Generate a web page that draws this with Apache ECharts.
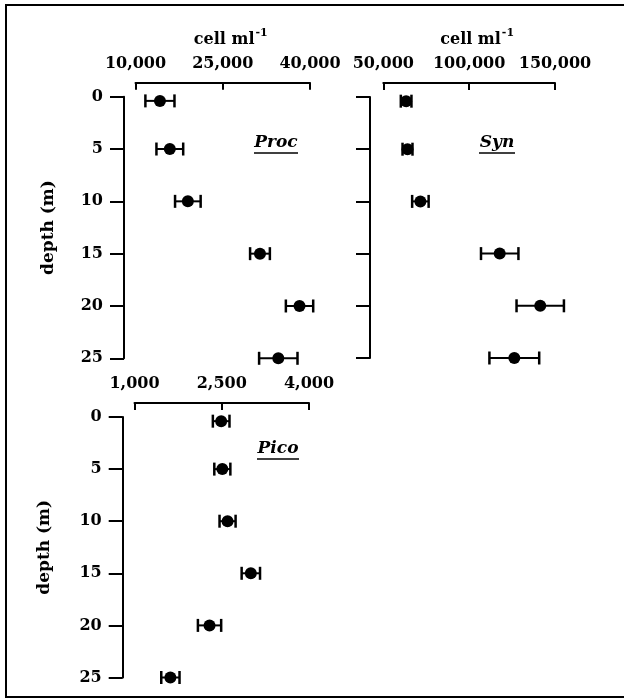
<!DOCTYPE html>
<html>
<head>
<meta charset="utf-8">
<script src="https://cdn.jsdelivr.net/npm/echarts@6/dist/echarts.min.js"></script>
<style>
html,body{margin:0;padding:0;background:#fff;}
#chart{width:624px;height:700px;}
</style>
</head>
<body>
<div id="chart"></div>
<script>
// ---- data ----
var depths = [0.4, 5, 10, 15, 20, 25];
var depthTicks = [0, 5, 10, 15, 20, 25];

var procMean = [14200, 15900, 19000, 31400, 38200, 34550];
var procErr  = [2500, 2300, 2200, 1700, 2350, 3300];

var synMean = [63300, 64100, 71600, 117800, 141400, 126300];
var synErr  = [3100, 2900, 4800, 10900, 13800, 14500];

var picoMean = [2490, 2510, 2600, 3000, 2290, 1617];
var picoErr  = [143, 138, 138, 158, 200, 157];

var procTicks = [10000, 25000, 40000];
var synTicks  = [50000, 100000, 150000];
var picoTicks = [1000, 2500, 4000];

// ---- chart ----
var FONT = 'DejaVu Serif';
var chart = echarts.init(document.getElementById('chart'), null, {renderer: 'canvas'});

function fmt(v){ return String(Math.round(v)).replace(/\B(?=(\d{3})+(?!\d))/g, ','); }

function pts(mean){ return mean.map(function(m,i){ return [m, depths[i]]; }); }
function bars(mean, err){ return mean.map(function(m,i){ return [m-err[i], m+err[i], depths[i]]; }); }

function xAxisCfg(idx, ticks, withName){
  var c = {
    type: 'value', gridIndex: idx, position: 'top', offset: 14,
    min: ticks[0], max: ticks[ticks.length-1], interval: ticks[1]-ticks[0],
    axisLine: {show: true, onZero: false, lineStyle: {color: '#000', width: 2}},
    axisTick: {show: true, inside: true, length: 7, lineStyle: {color: '#000', width: 2}},
    splitLine: {show: false},
    axisLabel: {show: true, margin: 11, color: '#000', fontFamily: FONT, fontWeight: 'bold', fontSize: 16,
      formatter: function(v){ return fmt(v); }}
  };
  if (withName) {
    c.name = '{a|cell ml}{b|-1}';
    c.nameLocation = 'middle';
    c.nameGap = 31;
    c.nameTextStyle = {
      color: '#000', fontFamily: FONT, fontWeight: 'bold', fontSize: 16,
      rich: {
        a: {fontFamily: FONT, fontWeight: 'bold', fontSize: 16, color: '#000', padding: [0,0,0,16]},
        b: {fontFamily: FONT, fontWeight: 'bold', fontSize: 11, color: '#000', padding: [0,0,13,1]}
      }
    };
  }
  return c;
}

function yAxisCfg(idx, offset, showLabels, nameGap){
  var c = {
    type: 'value', gridIndex: idx, inverse: true, min: 0, max: 25, interval: 5, offset: offset,
    axisLine: {show: true, onZero: false, lineStyle: {color: '#000', width: 2}},
    axisTick: {show: true, inside: false, length: 14, lineStyle: {color: '#000', width: 2}},
    splitLine: {show: false},
    axisLabel: {show: showLabels, margin: 21, color: '#000', fontFamily: FONT, fontWeight: 'bold', fontSize: 16}
  };
  if (showLabels) {
    c.name = 'depth (m)';
    c.nameLocation = 'middle';
    c.nameRotate = 90;
    c.nameGap = nameGap;
    c.nameTextStyle = {color: '#000', fontFamily: FONT, fontWeight: 'bold', fontSize: 17};
  }
  return c;
}

function errSeries(idx, data){
  return {
    type: 'custom', xAxisIndex: idx, yAxisIndex: idx, clip: false, z: 2,
    data: data,
    renderItem: function(params, api){
      var d = api.value(2);
      var p1 = api.coord([api.value(0), d]);
      var p2 = api.coord([api.value(1), d]);
      var h = 6.5;
      return {type: 'group', children: [
        {type: 'line', shape: {x1: p1[0], y1: p1[1], x2: p2[0], y2: p2[1]}, style: {stroke: '#000', lineWidth: 2}},
        {type: 'line', shape: {x1: p1[0], y1: p1[1]-h, x2: p1[0], y2: p1[1]+h}, style: {stroke: '#000', lineWidth: 2.5}},
        {type: 'line', shape: {x1: p2[0], y1: p2[1]-h, x2: p2[0], y2: p2[1]+h}, style: {stroke: '#000', lineWidth: 2.5}}
      ]};
    }
  };
}

function dotSeries(idx, data){
  return {
    type: 'scatter', xAxisIndex: idx, yAxisIndex: idx, clip: false, z: 3,
    symbol: 'circle', symbolSize: 12,
    itemStyle: {color: '#000', opacity: 1},
    emphasis: {disabled: true},
    data: data
  };
}

function label(text, cx, cy, w){
  return {
    type: 'group', children: [
      {type: 'text', x: cx, y: cy, style: {text: text, fill: '#000', font: 'italic bold 17px "DejaVu Serif"', align: 'center', verticalAlign: 'middle'}},
      {type: 'line', shape: {x1: cx - w/2, y1: cy + 10, x2: cx + w/2, y2: cy + 10}, style: {stroke: '#000', lineWidth: 1.5}}
    ]
  };
}

var option = {
  animation: false,
  backgroundColor: '#fff',
  grid: [
    {left: 135.5, top: 96.7, width: 174.5, height: 261.6},
    {left: 383.3, top: 97, width: 171.7, height: 261},
    {left: 134.5, top: 417, width: 174.5, height: 260.5}
  ],
  xAxis: [
    xAxisCfg(0, procTicks, true),
    xAxisCfg(1, synTicks, true),
    xAxisCfg(2, picoTicks, false)
  ],
  yAxis: [
    yAxisCfg(0, 11.5, true, 67),
    yAxisCfg(1, 13.3, false, 0),
    yAxisCfg(2, 11.8, true, 70)
  ],
  series: [
    errSeries(0, bars(procMean, procErr)), dotSeries(0, pts(procMean)),
    errSeries(1, bars(synMean, synErr)), dotSeries(1, pts(synMean)),
    errSeries(2, bars(picoMean, picoErr)), dotSeries(2, pts(picoMean))
  ],
  graphic: [
    {type: 'polyline', shape: {points: [[630,5],[6,5],[6,697],[630,697]]}, style: {stroke: '#000', lineWidth: 2, fill: null}},
    label('Proc', 276, 143, 44),
    label('Syn', 497, 143, 36),
    label('Pico', 278, 449, 42)
  ]
};
chart.setOption(option);
</script>
</body>
</html>
